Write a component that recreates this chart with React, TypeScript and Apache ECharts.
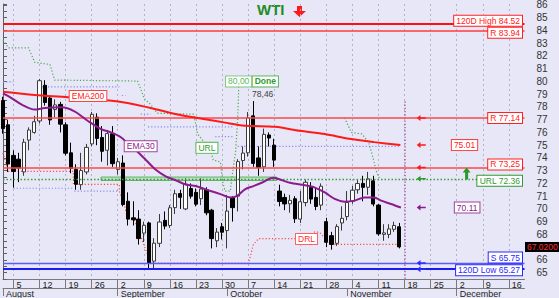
import React, { useEffect, useRef } from "react";
import * as echarts from "echarts";

const FONT = "'Liberation Sans', Arial, sans-serif";
const BG = "#e7e7f7";

// ---- categories: weekdays from 1 Aug 2024 (101 trading-day slots) ----
const firstDay = "2024-08-01";
const dayCount = 101;
const monthNames = ["August", "September", "October", "November", "December"];

// ---- daily OHLC, 1 Aug 2024 .. 15 Nov 2024 ----
const opens = [
  78.5, 76.6, 74.2, 73.9, 72.9, 75.4, 76.0, 76.9, 79.7, 78.7, 77.8, 78.2, 76.6, 74.4, 73.1, 71.9, 72.9, 75.1, 77.2, 75.6, 74.6, 75.9,
  73.1, 73.6, 70.6, 69.3, 69.2, 68.1, 68.9, 65.9, 67.3, 69.1, 68.7, 70.1, 71.2, 70.0, 71.6, 71.3, 70.8, 71.5, 69.9, 67.5,
  68.6, 68.3, 70.9, 71.0, 73.8, 74.4, 77.3, 74.0, 73.3, 75.8, 75.0, 71.4, 70.9, 70.4, 70.8, 69.2, 70.5, 71.7, 70.9, 70.3,
  69.0, 67.9, 67.3, 68.9, 69.4, 70.6, 71.5, 72.0, 71.7, 72.2, 70.3, 68.0, 68.0, 68.4, 68.6,
];
const highs = [
  78.8, 77.0, 74.6, 74.4, 75.5, 76.4, 77.3, 80.2, 80.1, 78.9, 78.6, 78.4, 76.8, 75.2, 73.5, 74.4, 75.1, 77.6, 77.5, 76.5, 76.2, 76.5,
  74.0, 74.2, 71.3, 70.6, 69.9, 69.0, 69.0, 67.7, 69.6, 69.8, 70.3, 71.5, 71.5, 72.4, 72.0, 71.6, 72.4, 71.7, 70.0, 68.5,
  68.9, 71.1, 71.0, 73.9, 74.9, 77.6, 78.46, 74.9, 76.3, 76.0, 75.5, 71.9, 71.2, 71.1, 71.0, 71.4, 72.3, 72.1, 71.7, 72.0,
  69.3, 68.2, 68.8, 70.2, 71.4, 71.8, 72.3, 72.6, 72.9, 72.6, 70.4, 68.8, 68.8, 69.0, 68.9,
];
const lows = [
  75.9, 72.9, 71.67, 72.1, 72.6, 74.6, 75.9, 76.7, 78.1, 76.6, 77.2, 76.0, 74.2, 72.8, 71.5, 71.5, 72.7, 74.9, 75.0, 73.7, 73.4, 73.3,
  72.7, 70.2, 68.7, 68.7, 67.2, 67.4, 65.27, 65.3, 67.0, 68.4, 68.5, 69.6, 70.0, 69.9, 70.8, 70.2, 70.3, 69.5, 66.9, 67.0,
  67.6, 66.9, 69.0, 69.8, 73.1, 74.1, 73.3, 72.6, 72.9, 74.9, 73.3, 70.2, 69.9, 69.7, 68.9, 68.9, 70.2, 70.4, 69.9, 69.9,
  67.0, 66.8, 67.1, 68.3, 69.1, 70.4, 71.2, 70.6, 71.1, 70.2, 67.9, 67.5, 67.7, 68.2, 66.9,
];
const closes = [
  76.31, 73.52, 72.94, 73.2, 75.23, 76.19, 76.84, 80.06, 78.35, 76.98, 78.16, 76.65, 74.37, 73.17, 71.93, 73.01, 74.83, 77.42, 75.53, 74.52, 75.91, 73.55,
  73.7, 70.34, 69.2, 69.15, 67.67, 68.71, 65.75, 67.31, 68.97, 68.65, 70.09, 71.19, 70.91, 71.95, 71.0, 70.37, 71.56, 69.69, 67.67, 68.18,
  68.17, 69.83, 70.1, 73.71, 74.38, 77.14, 73.57, 73.24, 75.85, 75.56, 73.83, 70.58, 70.39, 70.67, 69.22, 70.56, 72.09, 70.77, 70.19, 71.78,
  67.38, 67.21, 68.61, 69.26, 70.5, 71.47, 71.99, 71.69, 72.36, 70.38, 68.04, 68.12, 68.43, 68.7, 67.02,
];

// ---- indicator lines: [day index, value] ----
const ema200 = [
  [0, 79.19], [6.06, 78.94], [12.5, 78.76], [22.1, 78.43], [28.3, 77.92], [33.5, 77.41], [37.9, 77.1], [42.6, 76.77],
  [45.5, 76.57], [47.4, 76.51], [52.2, 76.44], [56.9, 76.13], [61.7, 75.88], [66.4, 75.5], [71.2, 75.24], [76.2, 75.01],
];
const ema30 = [
  [0, 79.06], [1.7, 78.68], [3.6, 78.18], [6.1, 77.79], [8, 77.92], [11.2, 77.97], [13.7, 77.66], [16.3, 76.9], [18.8, 76.26],
  [20.7, 76.0], [22.6, 75.62], [24, 75.11], [25.5, 74.6], [27.4, 73.84], [29.3, 73.07], [31.2, 72.56], [33.1, 72.25],
  [35, 71.92], [36.9, 71.79], [39.8, 71.41], [41.7, 71.16], [43.6, 70.9], [44.9, 71.03], [46.4, 71.54], [48, 71.79],
  [49.6, 72.05], [51.8, 72.44], [53.1, 72.31], [55, 72.05], [57.9, 71.85], [59.8, 71.67], [61.7, 71.29], [63.6, 70.78],
  [65.5, 70.57], [67.4, 70.65], [69.3, 70.9], [71.2, 70.9], [72.5, 70.65], [74.4, 70.39], [76.3, 70.11],
];
const greenTrail1 = [
  [0, 83.25], [1.05, 82.64], [4.9, 82.64], [6.1, 81.49], [9, 81.34], [9.9, 80.11], [25.8, 80.03], [27.1, 78.66], [28.3, 78.2],
  [29.6, 77.51], [36.6, 77.43], [37.3, 75.9], [39.8, 74.6], [40.3, 73.84], [41.7, 73.68], [42.1, 72.15], [42.6, 71.39],
  [43.6, 71.39], [44.0, 72.8], [44.6, 74.5], [45.0, 77.0], [45.2, 79.55],
];
const greenTrail2 = [
  [65.5, 77.14], [66.8, 76.0], [68.8, 75.88], [70.1, 75.24], [70.9, 74.09], [71.5, 73.07], [72.2, 72.36],
];
const redTrail = [
  [0, 74.4], [1, 72.94], [13.5, 72.94], [13.5, 71.92], [22.3, 71.92], [22.3, 71.41], [23.3, 70.26], [23.9, 69.25],
  [25.2, 69.12], [25.8, 68.48], [26.4, 67.84], [27.7, 66.44], [28, 65.75], [47.1, 65.75], [48, 67.2], [49, 67.67],
  [58.5, 67.67], [59.8, 68.2], [60.7, 68.17], [61.7, 67.72], [63, 67.21], [76.3, 67.21],
];
const blueSegments = [
  [[0, 79.96], [2, 79.96]],
  [[7.4, 79.58], [22.3, 79.58]],
  [[22.8, 78.9], [23.5, 78.9]],
  [[26.4, 77.43], [28.3, 77.43]],
  [[27.8, 76.44], [44.2, 76.44]],
  [[40.7, 75.67], [44.2, 75.67]],
  [[45, 74.9], [76.3, 74.9]],
  [[2, 71.62], [13.5, 71.62]],
  [[13.7, 71.39], [22.3, 71.39]],
];
const nowLine = [[77.1, 78.43], [77.1, 64.5]];
const urlZone = [[18.8, 72.5], [52.5, 72.23]];

// ---- horizontal levels ----
const levelValues = [84.52, 83.94, 77.14, 73.25, 72.36, 65.75, 65.27];
const levelTexts = ["120D High 84.52", "R 83.94", "R 77.14", "R 73,25", "URL 72.36", "S 65.75", "120D Low 65.27"];
const arrowValues = [77.14, 75.01, 73.25, 72.36, 70.11, 65.75, 65.27];
const lastPrice = 67.02;
const ema200Last = 75.01;
const ema30Last = 70.11;
const peakValue = 78.46;
const targetValue = 80.0;

// ---- styles ----
const levelStyles = [
  { color: "#ff1010", width: 2, type: "solid" },
  { color: "#ff3c3c", width: 1.5, type: "solid" },
  { color: "#ff4848", width: 1.5, type: "solid" },
  { color: "#ff4848", width: 1.5, type: "solid" },
  { color: "#3a9e3a", width: 1.3, type: [1.5, 2] },
  { color: "#5a5aff", width: 1.4, type: "solid" },
  { color: "#1c1cf0", width: 2, type: "solid" },
];
const levelLabelColors = ["#ff2020", "#ff2020", "#ff2020", "#ff2020", "#2f9a2f", "#2828ff", "#2828ff"];
const levelLabelOffsets = [-3, 1.5, 0, -3, 2, -5.5, 1];
const arrowColors = ["#ff1a1a", "#ff1a1a", "#ff1a1a", "#2a9a2a", "#8a1a8a", "#2a2aff", "#2a2aff"];
const LEFT_ARROW = "path://M0,4 L5,0 L5,3 L12,3 L12,5 L5,5 L5,8 Z";
const UP_ARROW = "path://M4,0 L8,5 L5.5,5 L5.5,12 L2.5,12 L2.5,5 L0,5 Z";

function buildDays() {
  const out: string[] = [];
  const d = new Date(firstDay + "T00:00:00Z");
  while (out.length < dayCount) {
    const w = d.getUTCDay();
    if (w !== 0 && w !== 6) out.push(d.toISOString().slice(0, 10));
    d.setUTCDate(d.getUTCDate() + 1);
  }
  return out;
}
const days = buildDays();
const isMonday = days.map((s) => new Date(s + "T00:00:00Z").getUTCDay() === 1);
const isMonthStart = days.map((s, i) => i === 0 || s.slice(5, 7) !== days[i - 1].slice(5, 7));

function box(x: number, v: number, text: string, color: string, border: string, pos: string, offset: number[], extra: any = {}) {
  return {
    coord: [x, v],
    symbol: "rect",
    symbolSize: 1,
    itemStyle: { color: "rgba(0,0,0,0)" },
    label: {
      show: true,
      formatter: text,
      position: pos,
      distance: 2,
      offset,
      color,
      backgroundColor: "#ffffff",
      borderColor: border,
      borderWidth: 1,
      padding: [1, 2, 0, 2],
      fontSize: 8.5,
      lineHeight: 9,
      fontFamily: FONT,
      ...extra,
    },
  };
}

function buildOption() {
  const candleData = opens.map((o, i) => [o, closes[i], lows[i], highs[i]]);
  const dotted = [1.2, 2];

  const labelPoints: any[] = [];
  levelValues.forEach((v, i) => {
    labelPoints.push(box(100, v, levelTexts[i], levelLabelColors[i], levelLabelColors[i], "left", [0, levelLabelOffsets[i]]));
  });
  labelPoints.push(box(88.5, ema200Last, ema200Last.toFixed(2), "#ff2020", "#ff4040", "inside", [0, 0]));
  labelPoints.push(box(89, ema30Last, ema30Last.toFixed(2), "#8a1a8a", "#a040a0", "inside", [0, 0]));
  labelPoints.push(box(16.3, 78.85, "EMA200", "#ff2020", "#ff4040", "inside", [0, 0]));
  labelPoints.push(box(26.4, 74.91, "EMA30", "#8a1a8a", "#a040a0", "inside", [0, 0]));
  labelPoints.push(box(39.1, 74.79, "URL", "#2f9a2f", "#55b855", "inside", [0, 0]));
  labelPoints.push(box(58.2, 67.64, "DRL", "#ff3030", "#ff6060", "inside", [0, 0]));
  labelPoints.push(box(45.2, targetValue, targetValue.toFixed(2).replace(".", ","), "#5cb85c", "#80c880", "inside", [0, 0]));
  labelPoints.push(box(50.3, targetValue, "Done", "#2f9a2f", "#55b855", "inside", [0, 0], { fontWeight: "bold" }));
  labelPoints.push({
    coord: [49.8, 79.0],
    symbol: "rect",
    symbolSize: 1,
    itemStyle: { color: "rgba(0,0,0,0)" },
    label: { show: true, position: "inside", formatter: peakValue.toFixed(2).replace(".", ","), color: "#444", fontSize: 8.5, fontFamily: FONT },
  });
  labelPoints.push({
    coord: [100, lastPrice],
    symbol: "rect",
    symbolSize: 1,
    itemStyle: { color: "rgba(0,0,0,0)" },
    label: {
      show: true,
      position: "right",
      distance: 0,
      formatter: lastPrice.toFixed(4),
      color: "#ff3030",
      backgroundColor: "#000",
      padding: [1, 2, 0, 2],
      fontSize: 8.5,
      lineHeight: 9,
      fontFamily: FONT,
    },
  });
  arrowValues.forEach((v, i) => {
    labelPoints.push({ coord: [80.2, v], symbol: LEFT_ARROW, symbolSize: [9, 6], itemStyle: { color: arrowColors[i] }, label: { show: false } });
  });
  labelPoints.push({ coord: [88.9, 72.77], symbol: UP_ARROW, symbolSize: [8, 12], itemStyle: { color: "#2a9a2a" }, label: { show: false } });

  const lineSeries = (data: any, color: string, width: number, type: any, z: number, smooth: any = false) => ({
    type: "line",
    xAxisIndex: 2,
    yAxisIndex: 0,
    data,
    symbol: "none",
    smooth,
    silent: true,
    z,
    lineStyle: { color, width, type },
  });

  const series: any[] = [
    {
      type: "candlestick",
      xAxisIndex: 0,
      yAxisIndex: 0,
      data: candleData,
      barWidth: 3.8,
      z: 3,
      itemStyle: { color: "#ffffff", color0: "#000000", borderColor: "#3a3a3a", borderColor0: "#000000", borderWidth: 1 },
    },
    lineSeries(greenTrail1, "#4aa84a", 1.2, dotted, 2),
    lineSeries(greenTrail2, "#4aa84a", 1.2, dotted, 2),
    lineSeries(redTrail, "#ff4a4a", 1.2, dotted, 2),
    lineSeries(nowLine, "#9a3a9a", 1.2, dotted, 2),
    ...blueSegments.map((seg) => lineSeries(seg, "#8a8af0", 1.2, dotted, 2)),
    {
      ...lineSeries(ema200, "#ff1a1a", 2, "solid", 4, 0.3),
      markLine: {
        silent: true,
        symbol: ["none", "none"],
        label: { show: false },
        lineStyle: { color: "#ff4848", width: 1.5, type: "solid" },
        data: levelValues.map((v, i) => ({ yAxis: v, lineStyle: { ...levelStyles[i] } })),
        z: 4,
      },
      markArea: {
        silent: true,
        itemStyle: { color: "rgba(120,200,120,0.35)", borderColor: "#5cb85c", borderWidth: 1 },
        data: [[{ coord: urlZone[0] }, { coord: urlZone[1] }]],
      },
    },
    {
      ...lineSeries(ema30, "#8b1c8b", 2, "solid", 4, 0.3),
      markPoint: { silent: true, data: labelPoints, z: 6 },
    },
  ];

  return {
    animation: false,
    backgroundColor: BG,
    textStyle: { fontFamily: FONT },
    grid: { left: 1.2, right: 34.5, top: 0, bottom: 16, containLabel: false },
    xAxis: [
      {
        type: "category",
        data: days,
        boundaryGap: false,
        axisLine: { show: true, lineStyle: { color: "#7a7a7a" } },
        axisTick: { show: true, interval: (i: number) => isMonday[i], length: 9, lineStyle: { color: "#7a7a7a" } },
        axisLabel: {
          interval: (i: number) => isMonday[i],
          formatter: (v: string) => String(Number(v.slice(8, 10))),
          align: "left",
          padding: [0, 0, 0, 3],
          margin: 1,
          fontSize: 9,
          lineHeight: 9,
          color: "#222",
          fontFamily: FONT,
        },
        splitLine: { show: true, interval: (i: number) => isMonday[i], lineStyle: { color: "#b2b2c4", type: [2, 3] } },
      },
      {
        type: "category",
        data: days,
        boundaryGap: false,
        position: "bottom",
        offset: 9,
        axisLine: { show: true, lineStyle: { color: "#7a7a7a" } },
        axisTick: { show: true, interval: (i: number) => isMonthStart[i], length: 8, lineStyle: { color: "#7a7a7a" } },
        axisLabel: {
          interval: (i: number) => isMonthStart[i],
          formatter: (v: string) => monthNames[Number(v.slice(5, 7)) - 8],
          align: "left",
          padding: [0, 0, 0, 3],
          margin: 1,
          fontSize: 9,
          lineHeight: 9,
          color: "#222",
          fontFamily: FONT,
        },
        splitLine: { show: false },
      },
      { type: "value", min: 0, max: 100, show: false },
    ],
    yAxis: [
      {
        type: "value",
        position: "right",
        min: 64.5,
        max: 86.08,
        interval: 0.5,
        axisLine: { show: true, lineStyle: { color: "#606060" } },
        axisTick: { show: true, length: 4, lineStyle: { color: "#606060" } },
        axisLabel: {
          // the 67 label sits under the last-price tag, as in the reference
          formatter: (v: number) =>
            Math.abs(v - Math.round(v)) < 1e-6 && Math.round(v) !== Math.round(lastPrice) ? String(Math.round(v)) : "",
          margin: 12,
          fontSize: 10,
          color: "#333",
          fontFamily: FONT,
        },
        splitLine: { show: false },
      },
    ],
    graphic: [
      { type: "text", left: 257, top: 2, style: { text: "WTI", font: "bold 15px 'Liberation Sans', Arial", fill: "#238c23" } },
      {
        type: "polygon",
        shape: { points: [[297, 6], [302, 6], [302, 11], [306, 11], [299.5, 17], [293, 11], [297, 11]] },
        style: { fill: "#ff1a1a" },
      },
    ],
    series,
  };
}

export default function App() {
  const ref = useRef<HTMLDivElement>(null);
  useEffect(() => {
    const chart = echarts.init(ref.current!, null, { renderer: "svg" });
    chart.setOption(buildOption() as any);
    return () => chart.dispose();
  }, []);
  return <div ref={ref} style={{ position: "absolute", left: 0, top: 0, width: 559, height: 298, background: BG }} />;
}
